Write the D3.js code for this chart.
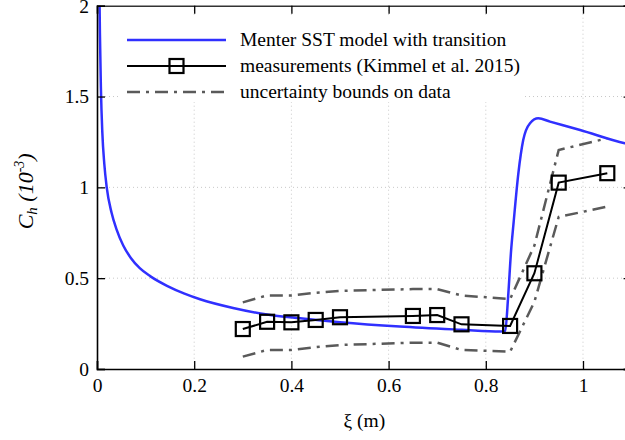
<!DOCTYPE html>
<html><head><meta charset="utf-8">
<script src="https://cdn.jsdelivr.net/npm/d3@7"></script>
<style>
body{margin:0;background:#fff}svg{display:block}
svg text{font-family:"Liberation Serif","Times New Roman","DejaVu Serif",serif !important;}
</style>
</head><body>
<svg id="c" width="625" height="440"></svg>
<script>
// ---- data ----
const xTicks = [0, 0.2, 0.4, 0.6, 0.8, 1];
const xTickLabels = ["0", "0.2", "0.4", "0.6", "0.8", "1"];
const yTicks = [0, 0.5, 1, 1.5, 2];
const yTickLabels = ["0", "0.5", "1", "1.5", "2"];

const modelX = [0.004,0.006,0.008,0.011,0.015,0.02,0.03,0.04,0.054,0.07,0.088,0.11,0.144,0.18,0.212,0.28,0.35,0.418,0.5,0.623,0.75,0.83,0.84,0.846,0.852,0.857,0.867,0.877,0.891,0.908,0.932,0.994,1.086,1.1];
const modelY = [2.3,1.85,1.55,1.3,1.13,1.0,0.86,0.77,0.68,0.61,0.555,0.51,0.458,0.415,0.384,0.336,0.3,0.279,0.258,0.234,0.216,0.206,0.21,0.4,0.65,0.80,1.077,1.26,1.353,1.38,1.362,1.316,1.243,1.235];

const measX = [0.3,0.35,0.4,0.45,0.5,0.65,0.7,0.75,0.85,0.9,0.95,1.05];
const measY = [0.22,0.26,0.257,0.27,0.285,0.292,0.297,0.246,0.237,0.527,1.026,1.078];
const upperY = [0.367,0.405,0.405,0.42,0.43,0.44,0.44,0.405,0.385,0.68,1.206,1.27];
const lowerY = [0.068,0.105,0.105,0.12,0.132,0.145,0.145,0.105,0.095,0.37,0.837,0.894];

const legendLabels = ["Menter SST model with transition","measurements (Kimmel et al. 2015)","uncertainty bounds on data"];

// ---- layout ----
const svg = d3.select("#c");
const L = 97, R = 631.6, T = 5.7, B = 369;
const x = d3.scaleLinear().domain([0, 1.1]).range([L, R]);
const y = d3.scaleLinear().domain([0, 2]).range([B, T]);
const font = "'Liberation Serif', 'Times New Roman', serif";
const blue = "#3030ff", gray = "#5a5a5a";
const dashDot = "13,6,3,6";

// grid
const g = svg.append("g");
g.selectAll(".gx").data(xTicks.slice(1)).enter().append("line")
  .attr("x1", d => x(d)).attr("x2", d => x(d)).attr("y1", T).attr("y2", B)
  .attr("stroke", "#c8c8c8").attr("stroke-width", 1).attr("stroke-dasharray", "1,3");
g.selectAll(".gy").data(yTicks.slice(1, -1)).enter().append("line")
  .attr("x1", L).attr("x2", R).attr("y1", d => y(d)).attr("y2", d => y(d))
  .attr("stroke", "#c8c8c8").attr("stroke-width", 1).attr("stroke-dasharray", "1,3");

const clip = svg.append("clipPath").attr("id", "pc").append("rect")
  .attr("x", L).attr("y", T).attr("width", R - L).attr("height", B - T);
const plot = svg.append("g").attr("clip-path", "url(#pc)");

// uncertainty bounds
const line = d3.line().x(d => x(d[0])).y(d => y(d[1]));
[upperY, lowerY].forEach(arr => {
  plot.append("path").datum(measX.map((v, i) => [v, arr[i]]))
    .attr("d", line).attr("fill", "none").attr("stroke", gray)
    .attr("stroke-width", 2.5).attr("stroke-dasharray", dashDot);
});

// model
plot.append("path").datum(modelX.map((v, i) => [v, modelY[i]]))
  .attr("d", d3.line().x(d => x(d[0])).y(d => y(d[1])).curve(d3.curveMonotoneX))
  .attr("fill", "none").attr("stroke", blue).attr("stroke-width", 2.5);

// measurements
plot.append("path").datum(measX.map((v, i) => [v, measY[i]]))
  .attr("d", line).attr("fill", "none").attr("stroke", "#000").attr("stroke-width", 2);
const ms = 14;
plot.selectAll(".m").data(measX.map((v, i) => [v, measY[i]])).enter().append("rect")
  .attr("x", d => x(d[0]) - ms / 2).attr("y", d => y(d[1]) - ms / 2)
  .attr("width", ms).attr("height", ms).attr("fill", "none")
  .attr("stroke", "#000").attr("stroke-width", 2.2);

// legend
const lg = svg.append("g");
lg.append("rect").attr("x", 118).attr("y", 15).attr("width", 405).attr("height", 87).attr("fill", "#fff");
const ly = [40, 66, 92];
lg.append("line").attr("x1", 127).attr("x2", 226).attr("y1", ly[0]).attr("y2", ly[0]).attr("stroke", blue).attr("stroke-width", 2.5);
lg.append("line").attr("x1", 127).attr("x2", 226).attr("y1", ly[1]).attr("y2", ly[1]).attr("stroke", "#000").attr("stroke-width", 2);
lg.append("rect").attr("x", 176.5 - ms / 2).attr("y", ly[1] - ms / 2).attr("width", ms).attr("height", ms).attr("fill", "none").attr("stroke", "#000").attr("stroke-width", 2.2);
lg.append("line").attr("x1", 127).attr("x2", 226).attr("y1", ly[2]).attr("y2", ly[2]).attr("stroke", gray).attr("stroke-width", 2.5).attr("stroke-dasharray", dashDot);
lg.selectAll(".lt").data(legendLabels).enter().append("text")
  .attr("x", 240).attr("y", (d, i) => ly[i] + 6).text(d => d)
  .style("font-family", font).attr("font-size", 19.5).attr("fill", "#000");

// axes
const ax = svg.append("g");
const xa = ax.append("g").attr("transform", `translate(0,${B})`)
  .call(d3.axisBottom(x).tickValues(xTicks).tickFormat((d, i) => xTickLabels[i]).tickSize(-8).tickPadding(9));
const xt = ax.append("g").attr("transform", `translate(0,${T})`)
  .call(d3.axisTop(x).tickValues(xTicks).tickFormat("").tickSize(-8));
const ya = ax.append("g").attr("transform", `translate(${L},0)`)
  .call(d3.axisLeft(y).tickValues(yTicks).tickFormat((d, i) => yTickLabels[i]).tickSize(-8).tickPadding(8));
const yr = ax.append("g").attr("transform", `translate(${R},0)`)
  .call(d3.axisRight(y).tickValues(yTicks).tickFormat("").tickSize(-8));
[xa, xt, ya, yr].forEach(a => {
  a.attr("font-family", null).style("font-family", font);
  a.selectAll("path.domain").attr("stroke", "#000").attr("stroke-width", 1.6);
  a.selectAll(".tick line").attr("stroke", "#000").attr("stroke-width", 1.3);
  a.selectAll("text").attr("font-size", 19.5).style("font-family", font).attr("fill", "#000");
});
ya.selectAll("text").attr("dy", "0.33em");
xt.selectAll("path.domain").attr("stroke", "#333").attr("stroke-width", 1.5);

// axis titles
svg.append("text").attr("x", (L + R) / 2).attr("y", 427).attr("text-anchor", "middle")
  .style("font-family", font).attr("font-size", 19.5).text("ξ (m)");
const yl = svg.append("text").attr("transform", `translate(33,${(T + B) / 2 + 4}) rotate(-90)`)
  .attr("text-anchor", "middle").style("font-family", font).attr("font-size", 22).attr("font-style", "italic");
yl.append("tspan").text("C");
yl.append("tspan").attr("font-size", 15).attr("dy", 4).text("h");
yl.append("tspan").attr("dy", -4).text(" (10");
yl.append("tspan").attr("font-size", 14).attr("dy", -9).text("-3");
yl.append("tspan").attr("dy", 9).text(")");
</script>
</body></html>
